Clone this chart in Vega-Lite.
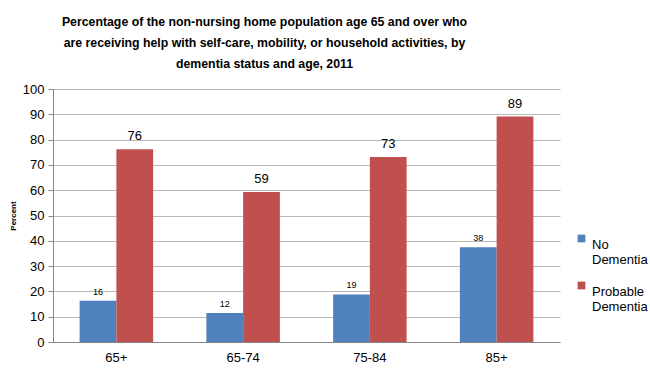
{
  "$schema": "https://vega.github.io/schema/vega-lite/v6.json",
  "width": 507,
  "height": 253,
  "autosize": {"type": "none"},
  "padding": {"left": 53, "top": 89, "right": 90, "bottom": 32},
  "background": "white",
  "title": {
    "text": ["Percentage of the non-nursing home population age 65 and over who", "are receiving help with self-care, mobility, or household activities, by", "dementia status and age, 2011"],
    "anchor": "middle",
    "frame": "group",
    "dx": -42,
    "offset": 13,
    "font": "Liberation Sans",
    "fontSize": 12.3,
    "fontWeight": "bold",
    "lineHeight": 21,
    "color": "#000000"
  },
  "data": {
    "values": [
      {"age": "65+", "status": "No Dementia", "value": 16.3},
      {"age": "65+", "status": "Probable Dementia", "value": 76.2},
      {"age": "65-74", "status": "No Dementia", "value": 11.5},
      {"age": "65-74", "status": "Probable Dementia", "value": 59.3},
      {"age": "75-84", "status": "No Dementia", "value": 18.8},
      {"age": "75-84", "status": "Probable Dementia", "value": 73.1},
      {"age": "85+", "status": "No Dementia", "value": 37.5},
      {"age": "85+", "status": "Probable Dementia", "value": 89.1}
    ]
  },
  "encoding": {
    "x": {
      "field": "age", "type": "nominal", "sort": null,
      "scale": {"paddingInner": 0.42, "paddingOuter": 0.21},
      "axis": {"title": null, "labelAngle": 0, "labelFont": "Liberation Sans", "labelFontSize": 13, "labelColor": "#000000", "labelPadding": 9, "domainColor": "#868686", "ticks": false, "grid": false}
    },
    "y": {
      "field": "value", "type": "quantitative",
      "scale": {"domain": [0, 100], "nice": false},
      "axis": {"title": "Percent", "titleFont": "Liberation Sans", "titleFontSize": 8, "titleFontWeight": "bold", "titleColor": "#000000", "titlePadding": 5, "values": [0,10,20,30,40,50,60,70,80,90,100], "labelFont": "Liberation Sans", "labelFontSize": 13, "labelColor": "#000000", "labelPadding": 4, "tickColor": "#868686", "tickSize": 5, "domainColor": "#868686", "gridColor": "#b9b9b9", "gridWidth": 1}
    },
    "xOffset": {"field": "status", "type": "nominal", "scale": {"paddingInner": 0, "paddingOuter": 0}}
  },
  "layer": [
    {
      "mark": {"type": "bar"},
      "encoding": {
        "color": {
          "field": "status", "type": "nominal",
          "scale": {"domain": ["No Dementia", "Probable Dementia"], "range": ["#4F81BD", "#C0504D"]},
          "legend": {"title": null, "orient": "none", "legendX": 522, "legendY": 143, "symbolType": "square", "symbolSize": 60, "symbolStrokeWidth": 0, "labelFont": "Liberation Sans", "labelFontSize": 13, "labelColor": "#000000", "labelExpr": "split(datum.label, ' ')", "labelLineHeight": 17, "labelBaseline": "top", "labelOffset": 4, "rowPadding": 12}
        }
      }
    },
    {
      "transform": [{"filter": "datum.status == 'No Dementia'"}],
      "mark": {"type": "text", "dy": -9, "font": "Liberation Sans", "fontSize": 9, "color": "#000000"},
      "encoding": {"text": {"field": "value", "type": "quantitative", "format": ".0f"}}
    },
    {
      "transform": [{"filter": "datum.status == 'Probable Dementia'"}],
      "mark": {"type": "text", "dy": -13, "font": "Liberation Sans", "fontSize": 13, "color": "#000000"},
      "encoding": {"text": {"field": "value", "type": "quantitative", "format": ".0f"}}
    }
  ],
  "config": {"view": {"stroke": null}}
}
